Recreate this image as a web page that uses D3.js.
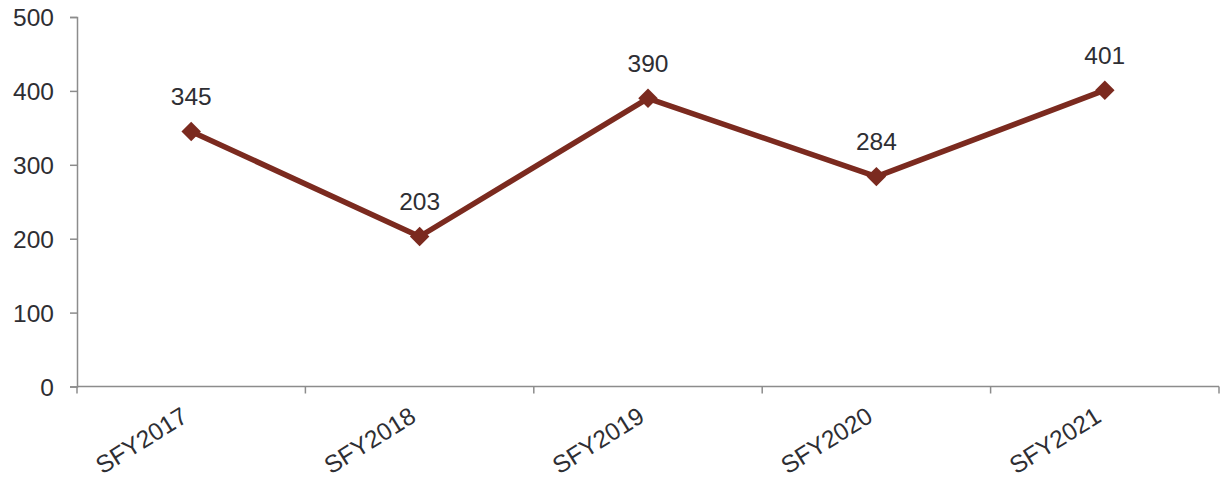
<!DOCTYPE html>
<html><head><meta charset="utf-8">
<script src="https://cdn.jsdelivr.net/npm/d3@7"></script>
<style>body{margin:0;background:#fff;} svg{display:block;font-family:Arial,"Liberation Sans",sans-serif;}</style>
</head><body>
<svg id="c" width="1224" height="483"></svg>
<script>
const categories = ["SFY2017","SFY2018","SFY2019","SFY2020","SFY2021"];
const values = [345, 203, 390, 284, 401];
const yTicks = [0,100,200,300,400,500];

(function(){
const svg = d3.select("#c");
const mLeft = 77, mRight = 1219, mTop = 17, mBottom = 386.5;
const x = d3.scaleBand().domain(categories).range([mLeft, mRight]);
const y = d3.scaleLinear().domain([0,500]).range([mBottom, mTop]);
const axisColor = "#8c8c8c", textColor = "#2e2e33", lineColor = "#7b2a1f";
const fs = "24.5px";

// y axis
const ya = svg.append("g").attr("transform", `translate(${mLeft},0)`)
  .call(d3.axisLeft(y).tickValues(yTicks).tickSize(7).tickPadding(16).tickSizeOuter(7));
ya.select(".domain").attr("stroke", axisColor).attr("stroke-width", 1.5);
ya.selectAll(".tick line").attr("stroke", axisColor).attr("stroke-width", 1.5);
ya.selectAll("text").attr("fill", textColor).style("font-size", fs).attr("dy","0.35em");

// x axis
const xa = svg.append("g").attr("transform", `translate(0,${mBottom})`);
xa.append("line").attr("x1", mLeft).attr("x2", mRight).attr("stroke", axisColor).attr("stroke-width", 1.5);
const bounds = categories.map(c => x(c)).concat([mRight]);
xa.selectAll("line.tk").data(bounds).join("line").attr("class","tk")
  .attr("x1", d => d).attr("x2", d => d).attr("y1", 0).attr("y2", 7)
  .attr("stroke", axisColor).attr("stroke-width", 1.5);
xa.selectAll("text").data(categories).join("text")
  .attr("transform", d => `translate(${x(d) + x.bandwidth()/2 - 2},${34}) rotate(-32)`)
  .attr("text-anchor", "end").attr("fill", textColor).style("font-size", fs)
  .text(d => d);

const cx = c => x(c) + x.bandwidth()/2;
const line = d3.line().x((d,i) => cx(categories[i])).y(d => y(d));
svg.append("path").datum(values).attr("d", line).attr("fill","none")
  .attr("stroke", lineColor).attr("stroke-width", 5.5).attr("stroke-linejoin","round");

svg.selectAll("path.mk").data(values).join("path").attr("class","mk")
  .attr("d", d3.symbol(d3.symbolSquare, 190))
  .attr("transform", (d,i) => `translate(${cx(categories[i])},${y(d)}) rotate(45)`)
  .attr("fill", lineColor);

svg.selectAll("text.lbl").data(values).join("text").attr("class","lbl")
  .attr("x", (d,i) => cx(categories[i])).attr("y", d => y(d) - 26.5)
  .attr("text-anchor","middle").attr("fill", textColor).style("font-size",fs)
  .text(d => d);
})();
</script>
</body></html>
